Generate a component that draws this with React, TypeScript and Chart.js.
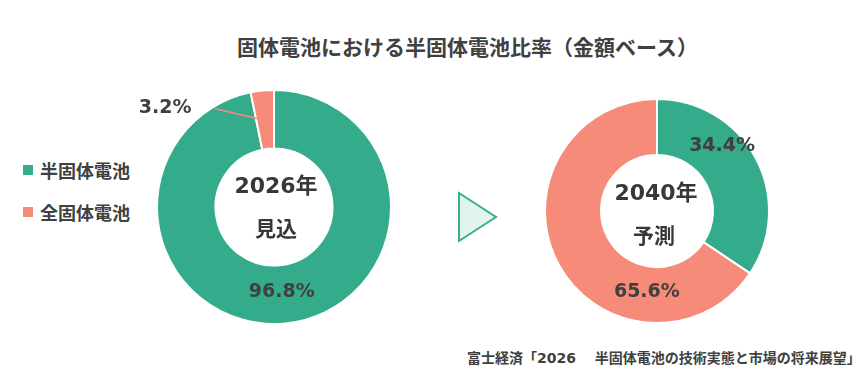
import React, { useEffect, useRef } from "react";
import { Chart, registerables } from "chart.js";

Chart.register(...registerables);

const TITLE = "固体電池における半固体電池比率（金額ベース）";
const SERIES = ["半固体電池", "全固体電池"];
const COLORS = ["#34AB8A", "#F68B7A"];
const VALUES_2026 = [96.8, 3.2];
const VALUES_2040 = [34.4, 65.6];
const CENTER_2026 = ["2026年", "見込"];
const CENTER_2040 = ["2040年", "予測"];
const SOURCE = "富士経済「2026　 半固体電池の技術実態と市場の将来展望」";

const FONT = '"Noto Sans CJK JP", "Noto Sans", sans-serif';
const NUMFONT = '"DejaVu Sans", "Noto Sans CJK JP", sans-serif';
const TEXT = "#404040";

type DonutProps = {
  values: number[];
  center: string[];
  size: number;
  left: number;
  top: number;
  radius: number;
  labelOffsets: number[][];
  centerOffsets: number[][];
  leaders?: (number[] | null)[];
};

function Donut(p: DonutProps) {
  const ref = useRef<HTMLCanvasElement | null>(null);
  useEffect(() => {
    if (!ref.current) return;
    const plugin = {
      id: "donutLabels",
      afterDatasetsDraw(chart: any) {
        const ctx = chart.ctx as CanvasRenderingContext2D;
        const meta = chart.getDatasetMeta(0);
        const data = chart.data.datasets[0].data as number[];
        ctx.save();
        ctx.textAlign = "center";
        ctx.textBaseline = "middle";
        meta.data.forEach((arc: any, i: number) => {
          const a = arc.getProps(["x", "y", "startAngle", "endAngle", "innerRadius", "outerRadius"], true);
          const ang = (a.startAngle + a.endAngle) / 2;
          const r = (a.innerRadius + a.outerRadius) / 2;
          const cx = a.x + Math.cos(ang) * r;
          const cy = a.y + Math.sin(ang) * r;
          const off = p.labelOffsets[i] || [0, 0];
          const tx = cx + off[0];
          const ty = cy + off[1];
          const ld = p.leaders && p.leaders[i];
          if (ld) {
            ctx.strokeStyle = COLORS[i];
            ctx.lineWidth = 1.5;
            ctx.beginPath();
            ctx.moveTo(tx + ld[0], ty + ld[1]);
            ctx.lineTo(cx + ld[2], cy + ld[3]);
            ctx.stroke();
          }
          ctx.fillStyle = TEXT;
          ctx.font = `bold 19px ${NUMFONT}`;
          ctx.fillText(data[i].toFixed(1) + "%", tx, ty);
        });
        const c = meta.data[0];
        ctx.fillStyle = "#383838";
        ctx.font = `bold 22px ${NUMFONT}`;
        ctx.fillText(p.center[0], c.x + p.centerOffsets[0][0], c.y + p.centerOffsets[0][1]);
        ctx.font = `bold 21px ${FONT}`;
        ctx.fillText(p.center[1], c.x + p.centerOffsets[1][0], c.y + p.centerOffsets[1][1]);
        ctx.restore();
      },
    };
    const chart = new Chart(ref.current, {
      type: "doughnut",
      data: {
        labels: SERIES,
        datasets: [
          {
            data: p.values,
            backgroundColor: COLORS,
            borderColor: "#ffffff",
            borderWidth: 2,
          },
        ],
      },
      options: {
        responsive: false,
        animation: false,
        radius: p.radius,
        cutout: "50%",
        layout: { padding: 0 },
        plugins: {
          legend: { display: false },
          tooltip: { enabled: false },
          title: { display: false },
        },
      },
      plugins: [plugin],
    });
    return () => chart.destroy();
  }, []);
  return (
    <canvas
      ref={ref}
      width={p.size}
      height={p.size}
      style={{ position: "absolute", left: p.left, top: p.top, width: p.size, height: p.size }}
    />
  );
}

export default function App() {
  return (
    <div
      style={{
        position: "absolute",
        left: 0,
        top: 0,
        width: 867,
        height: 384,
        background: "#ffffff",
        fontFamily: FONT,
        color: TEXT,
        overflow: "hidden",
      }}
    >
      <div
        style={{
          position: "absolute",
          left: 0,
          width: 935,
          top: 33,
          textAlign: "center",
          fontSize: 21,
          fontWeight: 700,
          lineHeight: "26px",
          whiteSpace: "nowrap",
        }}
      >
        {TITLE}
      </div>

      {SERIES.map((s, i) => (
        <div key={s} style={{ position: "absolute", left: 23, top: 158 + i * 42, height: 24, display: "flex", alignItems: "center" }}>
          <div style={{ width: 10, height: 10, background: COLORS[i], marginRight: 7 }} />
          <div style={{ fontSize: 18, fontWeight: 700, lineHeight: "24px", whiteSpace: "nowrap" }}>{s}</div>
        </div>
      ))}

      <Donut
        values={VALUES_2026}
        center={CENTER_2026}
        size={300}
        left={124}
        top={57}
        radius={117}
        labelOffsets={[[-1, -2], [-100, -12]]}
        centerOffsets={[[2, -20], [2, 21]]}
        leaders={[null, [50, 1, -7, -1]]}
      />
      <Donut
        values={VALUES_2040}
        center={CENTER_2040}
        size={260}
        left={527}
        top={81}
        radius={112}
        labelOffsets={[[-9, -25], [64, 42]]}
        centerOffsets={[[-1, -17], [-3, 24]]}
      />

      <svg style={{ position: "absolute", left: 450, top: 185 }} width={60} height={65}>
        <polygon points="9,8 46,32 9,56" fill="#E0F5EE" stroke="#3AAE8B" strokeWidth={2} strokeLinejoin="miter" />
      </svg>

      <div
        style={{
          position: "absolute",
          left: 467,
          top: 348,
          fontSize: 14,
          fontWeight: 700,
          lineHeight: "20px",
          whiteSpace: "pre",
          fontFamily: NUMFONT,
        }}
      >
        {SOURCE}
      </div>
    </div>
  );
}
